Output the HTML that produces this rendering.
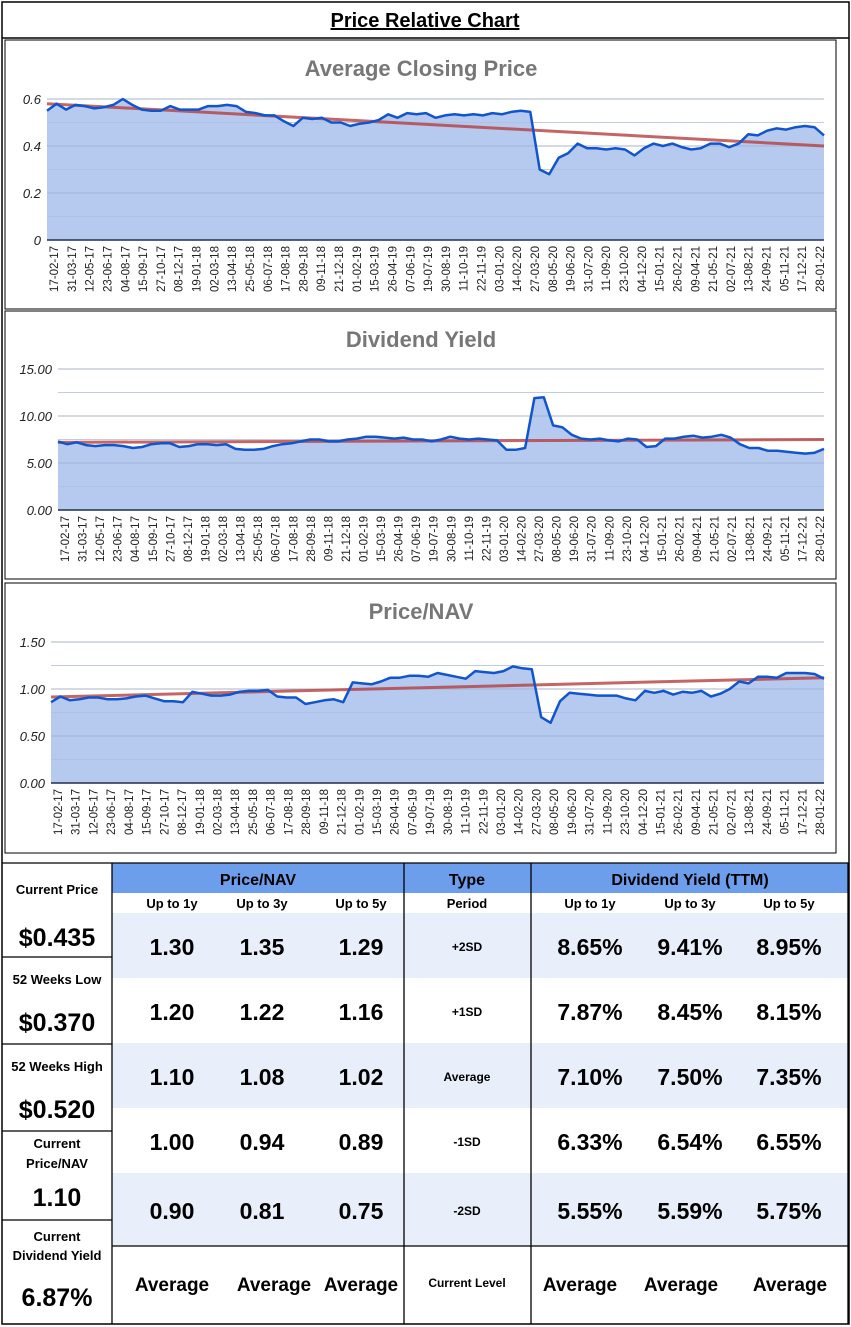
<!DOCTYPE html>
<html><head><meta charset="utf-8"><style>
body{margin:0;background:#fff}
svg{display:block;font-family:"Liberation Sans",sans-serif}
</style></head><body>
<svg id="root" width="851" height="1327" viewBox="0 0 851 1327">
<rect x="2" y="2" width="847" height="1322" fill="#fff" stroke="#000" stroke-width="1.5"/>
<line x1="2" y1="38" x2="849" y2="38" stroke="#000" stroke-width="1.5"/>
<text x="425" y="27" text-anchor="middle" font-size="20" font-weight="bold" text-decoration="underline">Price Relative Chart</text>
<g id="charts"></g>
<g id="table"></g>
</svg>
<script>
const NS="http://www.w3.org/2000/svg";
const dateLabels=["17-02-17","31-03-17","12-05-17","23-06-17","04-08-17","15-09-17","27-10-17","08-12-17","19-01-18","02-03-18","13-04-18","25-05-18","06-07-18","17-08-18","28-09-18","09-11-18","21-12-18","01-02-19","15-03-19","26-04-19","07-06-19","19-07-19","30-08-19","11-10-19","22-11-19","03-01-20","14-02-20","27-03-20","08-05-20","19-06-20","31-07-20","11-09-20","23-10-20","04-12-20","15-01-21","26-02-21","09-04-21","21-05-21","02-07-21","13-08-21","24-09-21","05-11-21","17-12-21","28-01-22"];
const priceValues=[0.55,0.58,0.555,0.575,0.57,0.56,0.565,0.575,0.60,0.575,0.555,0.55,0.55,0.57,0.555,0.555,0.555,0.57,0.57,0.575,0.57,0.545,0.54,0.53,0.53,0.505,0.485,0.52,0.515,0.52,0.50,0.50,0.485,0.495,0.50,0.51,0.535,0.52,0.54,0.535,0.54,0.52,0.53,0.535,0.53,0.535,0.53,0.54,0.535,0.545,0.55,0.545,0.30,0.28,0.35,0.37,0.41,0.39,0.39,0.385,0.39,0.385,0.36,0.39,0.41,0.40,0.41,0.395,0.385,0.39,0.41,0.41,0.395,0.41,0.45,0.445,0.465,0.475,0.47,0.48,0.485,0.48,0.445];
const priceTrend=[0.58,0.40];
const priceTicks=["0","0.2","0.4","0.6"];
const yieldValues=[7.3,7.0,7.2,6.9,6.8,6.9,6.9,6.8,6.6,6.7,7.0,7.1,7.1,6.7,6.8,7.0,7.0,6.9,7.0,6.5,6.4,6.4,6.5,6.8,7.0,7.1,7.3,7.5,7.5,7.3,7.3,7.5,7.6,7.8,7.8,7.7,7.6,7.7,7.5,7.5,7.3,7.5,7.8,7.6,7.5,7.6,7.5,7.4,6.4,6.4,6.6,11.9,12.0,9.0,8.8,8.0,7.6,7.5,7.6,7.4,7.3,7.6,7.5,6.7,6.8,7.6,7.6,7.8,7.9,7.7,7.8,8.0,7.7,7.0,6.6,6.6,6.3,6.3,6.2,6.1,6.0,6.1,6.5];
const yieldTrend=[7.2,7.5];
const yieldTicks=["0.00","5.00","10.00","15.00"];
const navValues=[0.86,0.92,0.88,0.89,0.91,0.91,0.89,0.89,0.90,0.92,0.93,0.90,0.87,0.87,0.86,0.97,0.95,0.93,0.93,0.94,0.97,0.98,0.98,0.99,0.92,0.91,0.91,0.84,0.86,0.88,0.89,0.86,1.07,1.06,1.05,1.08,1.12,1.12,1.14,1.14,1.13,1.17,1.15,1.13,1.11,1.19,1.18,1.17,1.19,1.24,1.22,1.21,0.70,0.64,0.87,0.96,0.95,0.94,0.93,0.93,0.93,0.90,0.88,0.98,0.96,0.98,0.94,0.97,0.96,0.98,0.92,0.95,1.0,1.08,1.06,1.13,1.13,1.12,1.17,1.17,1.17,1.16,1.11];
const navTrend=[0.915,1.12];
const navTicks=["0.00","0.50","1.00","1.50"];

function el(tag,attrs,parent){const e=document.createElementNS(NS,tag);for(const k in attrs)e.setAttribute(k,attrs[k]);parent.appendChild(e);return e;}

function drawChart(cfg){
  const g=el("g",{},document.getElementById("charts"));
  
  
  const box=el("rect",{x:5,y:cfg.top,width:831,height:cfg.h,fill:"#fff",stroke:"#000","stroke-width":1},g);
  
  
  const t=el("text",{x:421,y:cfg.top+36,"text-anchor":"middle","font-size":22,"font-weight":"bold",fill:"#777"},g);
  t.textContent=cfg.title;
  
  
  const x0=cfg.x0,x1=824,yTop=cfg.yTop,yBot=cfg.yBot,max=cfg.max;
  const yS=v=>yBot-(v/max)*(yBot-yTop);
  const xS=i=>x0+i*(x1-x0)/(cfg.values.length-1);
  for(let k=1;k<=6;k++){const v=max*k/6;el("line",{x1:x0,x2:x1,y1:yS(v),y2:yS(v),stroke:k%2?"#e3e3e3":"#cccccc","stroke-width":1},g);}
  let d="M"+x0+","+yBot;
  cfg.values.forEach((v,i)=>{d+=" L"+xS(i).toFixed(1)+","+yS(v).toFixed(1);});
  d+=" L"+x1+","+yBot+" Z";
  const area=el("path",{d:d,fill:"#b6c9ef"},g);
  
  
  for(let k=1;k<=6;k++){const v=max*k/6;el("line",{x1:x0,x2:x1,y1:yS(v),y2:yS(v),stroke:k%2?"#a9b9dc":"#8e9fc2","stroke-width":1,"stroke-opacity":0.55},g);}
  el("line",{x1:x0,x2:x1,y1:yBot,y2:yBot,stroke:"#1f2f4f","stroke-width":1.5},g);
  const tr=el("line",{x1:x0,x2:x1,y1:yS(cfg.trend[0]),y2:yS(cfg.trend[1]),stroke:"#b54040","stroke-width":3,"stroke-opacity":0.8},g);
  
  
  let ld="";
  cfg.values.forEach((v,i)=>{ld+=(i?" L":"M")+xS(i).toFixed(1)+","+yS(v).toFixed(1);});
  const line=el("path",{d:ld,fill:"none",stroke:"#1155cc","stroke-width":2.5,"stroke-linejoin":"round"},g);
  
  
  cfg.ticks.forEach((lab,k)=>{
    const v=max*k/3;
    const tt=el("text",{x:x0-6,y:yS(v)+5,"text-anchor":"end","font-size":13,"font-style":"italic",fill:"#222"},g);
    tt.textContent=lab;
    
    
  });
  const n=dateLabels.length, lx0=x0+7, lx1=x1-4;
  dateLabels.forEach((lab,k)=>{
    const x=lx0+k*(lx1-lx0)/(n-1), y=yBot+6;
    const tt=el("text",{x:x,y:y,transform:`rotate(-90 ${x} ${y})`,"text-anchor":"end","font-size":11.5,fill:"#222",dy:"4"},g);
    tt.textContent=lab;
    
    
  });
}
drawChart({name:"closing-price-chart",title:"Average Closing Price",top:40,h:269,x0:47,yTop:99,yBot:240,max:0.6,values:priceValues,trend:priceTrend,ticks:priceTicks});
drawChart({name:"dividend-yield-chart",title:"Dividend Yield",top:311,h:268,x0:58,yTop:369,yBot:510,max:15,values:yieldValues,trend:yieldTrend,ticks:yieldTicks});
drawChart({name:"price-nav-chart",title:"Price/NAV",top:583,h:270,x0:51,yTop:642,yBot:783,max:1.5,values:navValues,trend:navTrend,ticks:navTicks});
</script>
<script>
(function(){
const T=document.getElementById("table");
function el(tag,attrs){const e=document.createElementNS("http://www.w3.org/2000/svg",tag);for(const k in attrs)e.setAttribute(k,attrs[k]);T.appendChild(e);return e;}
function txt(x,y,s,size,name){const t=el("text",{x:x,y:y,"text-anchor":"middle","font-size":size,"font-weight":"bold",fill:"#000"});t.textContent=s;return t;}
el("rect",{x:112,y:863,width:736,height:30,fill:"#6d9eeb"});
const rows=[[913,978,true],[978,1043,false],[1043,1108,true],[1108,1173,false],[1173,1246,true]];
rows.forEach(r=>{if(r[2])el("rect",{x:112,y:r[0],width:736,height:r[1]-r[0],fill:"#e8eefa"});});
const L=(a,b,c,d)=>el("line",{x1:a,y1:b,x2:c,y2:d,stroke:"#000","stroke-width":1.3});
L(2,863,849,863);L(112,863,112,1324);L(404,863,404,1324);L(531,863,531,1324);L(848,863,848,1324);
L(112,1246,848,1246);
[957,1044,1131,1220].forEach(y=>L(2,y,112,y));
txt(258,885,"Price/NAV",16,"price-nav-header");
txt(467,885,"Type",16,"type-header");
txt(690,885,"Dividend Yield (TTM)",16,"dividend-yield-header");
const pc=[172,262,361],dc=[590,690,789];
["Up to 1y","Up to 3y","Up to 5y"].forEach((s,i)=>{txt(pc[i],908,s,13,"period-header");txt(dc[i],908,s,13,"period-header");});
txt(467,908,"Period",13,"period-label");
const navT=[["1.30","1.35","1.29"],["1.20","1.22","1.16"],["1.10","1.08","1.02"],["1.00","0.94","0.89"],["0.90","0.81","0.75"],["Average","Average","Average"]];
const dyT=[["8.65%","9.41%","8.95%"],["7.87%","8.45%","8.15%"],["7.10%","7.50%","7.35%"],["6.33%","6.54%","6.55%"],["5.55%","5.59%","5.75%"],["Average","Average","Average"]];
const types=["+2SD","+1SD","Average","-1SD","-2SD","Current Level"];
const ys=[955,1020,1085,1150,1219,1291];
const avgP=[172,274,361],avgD=[580,681,790];
ys.forEach((y,r)=>{
  const sz=r===5?19:23;
  navT[r].forEach((s,i)=>txt(r===5?avgP[i]:pc[i],y,s,sz,"price-nav-value"));
  dyT[r].forEach((s,i)=>txt(r===5?avgD[i]:dc[i],y,s,sz,"dividend-yield-value"));
  txt(467,y-4,types[r],12,"type-label");
});
txt(57,894,"Current Price",13,"current-price-label");
txt(57,946,"$0.435",25,"current-price-value");
txt(57,984,"52 Weeks Low",13,"low-52w-label");
txt(57,1031,"$0.370",25,"low-52w-value");
txt(57,1071,"52 Weeks High",13,"high-52w-label");
txt(57,1118,"$0.520",25,"high-52w-value");
txt(57,1148,"Current",13,"current-nav-label");
txt(57,1168,"Price/NAV",13,"current-nav-label");
txt(57,1206,"1.10",25,"current-nav-value");
txt(57,1241,"Current",13,"current-yield-label");
txt(57,1260,"Dividend Yield",13,"current-yield-label");
txt(57,1306,"6.87%",25,"current-yield-value");
})();
</script>
</body></html>
